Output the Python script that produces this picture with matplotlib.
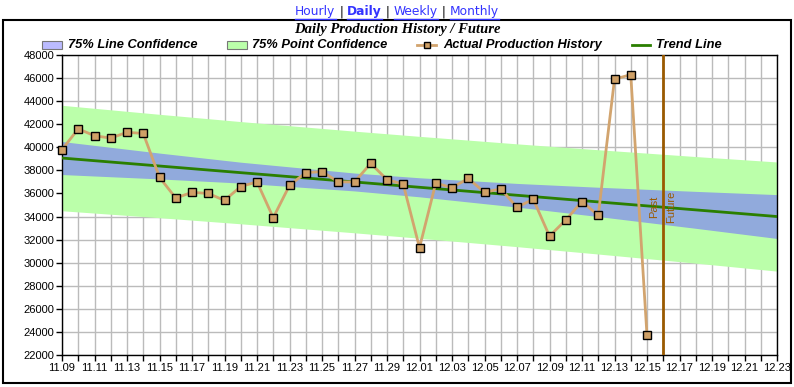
import matplotlib
matplotlib.use("Agg")
import matplotlib.pyplot as plt
from matplotlib.lines import Line2D
from matplotlib.patches import Rectangle

W, H = 794, 387

# category labels, one per day 11.09 .. 12.23
days = [f"11.{d:02d}" for d in range(9, 31)] + [f"12.{d:02d}" for d in range(1, 24)]

# actual production, 11.09 .. 12.15
production = [39800, 41600, 41000, 40800, 41300, 41200, 37400, 35600, 36100, 36000,
              35400, 36600, 37000, 33900, 36700, 37800, 37900, 37000, 37000, 38600,
              37200, 36800, 31300, 36900, 36500, 37300, 36100, 36400, 34800, 35500,
              32300, 33700, 35300, 34100, 45900, 46300, 23700]

trend_idx = [0, 44]
trend_val = [39070, 34000]

# confidence band edges read at a few days
band_idx = [0, 6, 11, 18, 22, 28, 33, 39, 44]
line_hi = [40500, 39500, 38710, 37770, 37360, 36870, 36540, 36180, 35900]
line_lo = [37640, 37260, 36900, 36220, 35710, 34820, 34000, 32980, 32100]
point_hi = [43640, 42860, 42230, 41400, 40950, 40300, 39790, 39200, 38730]
point_lo = [34500, 33900, 33370, 32590, 32120, 31390, 30750, 29960, 29270]

now_idx = 37  # 12.16, past / future split

C_POINT = "#BBFFAA"
C_LINE = "#91AADC"
C_LINE_LEG = "#BBBBFF"
C_PROD = "#D2A46E"
C_MARK = "#CFA066"
C_TREND = "#2A7F00"
C_NOW = "#9A5A00"
C_LINK = "#3333FF"

fig = plt.figure(figsize=(W / 100, H / 100), dpi=100)

def fx(x):
    return x / W

def fy(y):
    return 1 - y / H

# outer frame
fig.patches.append(Rectangle((fx(3), fy(383)), fx(788), 363 / H, transform=fig.transFigure,
                             fill=False, ec="black", lw=1.5))

ax = fig.add_axes([fx(62), fy(355), 715 / W, 300 / H])
ax.set_xlim(0, len(days) - 1)
ax.set_ylim(22000, 48000)

ax.fill_between(band_idx, point_lo, point_hi, color=C_POINT, lw=0, zorder=1)
ax.fill_between(band_idx, line_lo, line_hi, color=C_LINE, lw=0, zorder=2)
ax.plot(trend_idx, trend_val, color=C_TREND, lw=2, zorder=3)
ax.axvline(now_idx, color=C_NOW, lw=2, zorder=4)
ax.plot(range(len(production)), production, color=C_PROD, lw=2, marker="s", ms=5.5,
        mfc=C_MARK, mec="black", mew=1, zorder=5, clip_on=False)

ax.annotate("Past", xy=(now_idx, 34800), xytext=(-6.5, 0), textcoords="offset points",
            rotation=90, ha="center", va="center", color=C_NOW, fontsize=8,
            family="Liberation Sans")
ax.annotate("Future", xy=(now_idx, 34800), xytext=(5.5, 0), textcoords="offset points",
            rotation=90, ha="center", va="center", color=C_NOW, fontsize=8,
            family="Liberation Sans")

ax.set_xticks(range(len(days)))
ax.set_xticklabels([d if i % 2 == 0 else "" for i, d in enumerate(days)])
ax.set_yticks(range(22000, 48001, 2000))
ax.set_yticklabels([str(v) for v in range(22000, 48001, 2000)])
ax.tick_params(direction="out", length=4, width=1, labelsize=8, pad=1.5)
for lab in ax.get_xticklabels() + ax.get_yticklabels():
    lab.set_family("Liberation Sans")
ax.grid(True, color="#BBBBBB", lw=1, zorder=0)
ax.set_axisbelow(True)
for s in ax.spines.values():
    s.set_color("black")
    s.set_linewidth(1)

# title
fig.text(0.5, fy(30), "Daily Production History / Future", ha="center", va="center",
         family="Liberation Serif", weight="bold", style="italic", fontsize=10.5)

# legend row
leg_font = dict(family="Liberation Sans", weight="bold", style="italic", fontsize=9.3,
                va="center", ha="left")
ly = 45
fig.patches.append(Rectangle((fx(42), fy(49)), 20 / W, 8 / H, transform=fig.transFigure,
                             fc=C_LINE_LEG, ec="#777777", lw=0.8))
fig.text(fx(68), fy(ly), "75% Line Confidence", **leg_font)
fig.patches.append(Rectangle((fx(227), fy(49)), 20 / W, 8 / H, transform=fig.transFigure,
                             fc=C_POINT, ec="#777777", lw=0.8))
fig.text(fx(252), fy(ly), "75% Point Confidence", **leg_font)
fig.lines.append(Line2D([fx(417), fx(436)], [fy(ly), fy(ly)], transform=fig.transFigure,
                        color=C_PROD, lw=2))
fig.lines.append(Line2D([fx(426.5)], [fy(ly)], transform=fig.transFigure, ls="none",
                        marker="s", ms=5, mfc=C_MARK, mec="black", mew=1))
fig.text(fx(443), fy(ly), "Actual Production History", **leg_font)
fig.lines.append(Line2D([fx(632), fx(650)], [fy(ly), fy(ly)], transform=fig.transFigure,
                        color=C_TREND, lw=2))
fig.text(fx(656), fy(ly), "Trend Line", **leg_font)

# navigation links at the top
pieces = [("Hourly", "normal", C_LINK, True), (" | ", "normal", "black", False),
          ("Daily", "bold", C_LINK, True), (" | ", "normal", "black", False),
          ("Weekly", "normal", C_LINK, True), (" | ", "normal", "black", False),
          ("Monthly", "normal", C_LINK, True)]
renderer = fig.canvas.get_renderer()
texts = []
for s, w, c, u in pieces:
    t = fig.text(0, fy(12), s, ha="left", va="center", family="DejaVu Sans",
                 weight=w, color=c, fontsize=8.8)
    texts.append(t)
widths = [t.get_window_extent(renderer).width for t in texts]
x0 = 397 - sum(widths) / 2
for t, wd, (s, w, c, u) in zip(texts, widths, pieces):
    t.set_x(fx(x0))
    if u:
        fig.lines.append(Line2D([fx(x0), fx(x0 + wd)], [fy(18.5), fy(18.5)],
                                transform=fig.transFigure, color=c, lw=1))
    x0 += wd

fig.savefig("out.png", dpi=100)
